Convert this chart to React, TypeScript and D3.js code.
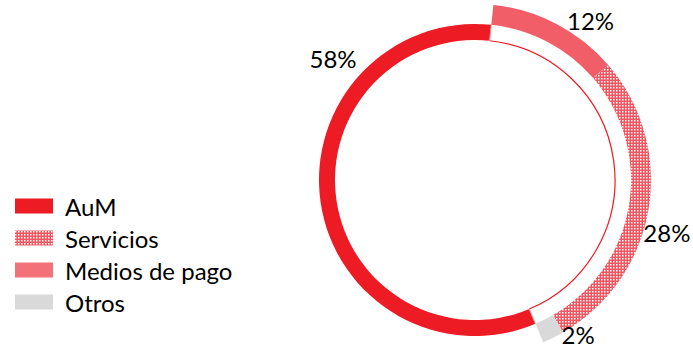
import React from "react";
import * as d3 from "d3";

const outerCategories = ["Medios de pago", "Servicios", "Otros", "blank"];
const outerValues = [12, 28, 2, 58];
const innerCategories = ["blank", "AuM"];
const innerValues = [42, 58];
const legendCategories = ["AuM", "Servicios", "Medios de pago", "Otros"];
const labelTexts: Record<string, string> = { AuM: "58%", Servicios: "28%", "Medios de pago": "12%", Otros: "2%" };

const W = 693, H = 347;
const cx = 475, cy = 180;
const r1 = 140, r2 = 156, r3 = 176;
const startDeg = 6;

const colors: Record<string, string> = {
  AuM: "#ED1C24",
  "Medios de pago": "#F15E67",
  Servicios: "url(#checker)",
  Otros: "#D9D9D9",
};
const legendColors: Record<string, string> = {
  AuM: "#ED1C24",
  "Medios de pago": "#F3727A",
  Servicios: "url(#checkerL)",
  Otros: "#D9D9D9",
};
// label placement (polar angle in degrees from 12 o'clock, radius)
const labelPlacement: Record<string, [number, number]> = {
  "Medios de pago": [35.9, 197],
  Servicios: [105.4, 199],
  Otros: [146.3, 186],
  AuM: [310.6, 187],
};

export default function App() {
  const toRad = (d: number) => (d * Math.PI) / 180;
  const pie = d3.pie<number>().sort(null).startAngle(toRad(startDeg)).endAngle(toRad(startDeg) + 2 * Math.PI);
  const outerArcs = pie(outerValues);
  const innerArcs = pie(innerValues);
  const outerArc = d3.arc<d3.PieArcDatum<number>>().innerRadius(r2).outerRadius(r3);
  const innerArc = d3.arc<d3.PieArcDatum<number>>().innerRadius(r1).outerRadius(r2);

  const blankInner = innerArcs[innerCategories.indexOf("blank")];
  const lineArc = d3.arc<any>()({ innerRadius: r1, outerRadius: r1, startAngle: blankInner.startAngle, endAngle: blankInner.endAngle }) as string;
  const radial = (a: number) => {
    const s = Math.sin(a), c = -Math.cos(a);
    return `M${r1 * s},${r1 * c}L${r2 * s},${r2 * c}`;
  };

  const legendY = d3.scaleBand<string>().domain(legendCategories).range([190, 318]);

  return (
    <svg width={W} height={H} style={{ position: "absolute", left: 0, top: 0, background: "#fff" }} fontFamily="Lato, 'Open Sans', sans-serif">
      <defs>
        <pattern id="checker" width={3} height={3} patternUnits="userSpaceOnUse">
          <rect width={3} height={3} fill="#F15560" />
          <rect width={1.5} height={1.5} fill="#fff" />
        </pattern>
        <pattern id="checkerL" width={3} height={3} patternUnits="userSpaceOnUse">
          <rect width={3} height={3} fill="#F15560" />
          <rect width={1.5} height={1.5} fill="#fff" />
        </pattern>
      </defs>
      <rect width={W} height={H} fill="#fff" />
      <g transform={`translate(${cx},${cy})`}>
        {innerArcs.map((a, i) =>
          innerCategories[i] === "blank" ? (
            <path key={"i" + i} d={innerArc(a) as string} fill="#fff" />
          ) : (
            <path key={"i" + i} d={innerArc(a) as string} fill={colors[innerCategories[i]]} />
          )
        )}
        <path d={lineArc} fill="none" stroke="#ED1C24" strokeWidth={1.2} />
        <path d={radial(blankInner.startAngle)} stroke="#F39CA0" strokeWidth={1} />
        <path d={radial(blankInner.endAngle)} stroke="#F39CA0" strokeWidth={1} />
        {outerArcs.map((a, i) =>
          outerCategories[i] === "blank" ? null : (
            <path key={"o" + i} d={outerArc(a) as string} fill={colors[outerCategories[i]]} />
          )
        )}
        {Object.keys(labelTexts).map((k) => {
          const [deg, r] = labelPlacement[k];
          const x = r * Math.sin(toRad(deg));
          const y = -r * Math.cos(toRad(deg));
          return (
            <text key={k} x={x} y={y} textAnchor="middle" dominantBaseline="central" fontSize={24} fill="#000">
              {labelTexts[k]}
            </text>
          );
        })}
      </g>
      <g>
        {legendCategories.map((c) => {
          const y0 = (legendY(c) as number) + legendY.bandwidth() / 2;
          return (
            <g key={c}>
              <rect x={15} y={y0 - 7.5} width={38} height={15} fill={legendColors[c]} />
              <text x={65} y={y0} dominantBaseline="central" fontSize={24} fill="#000">
                {c}
              </text>
            </g>
          );
        })}
      </g>
    </svg>
  );
}
